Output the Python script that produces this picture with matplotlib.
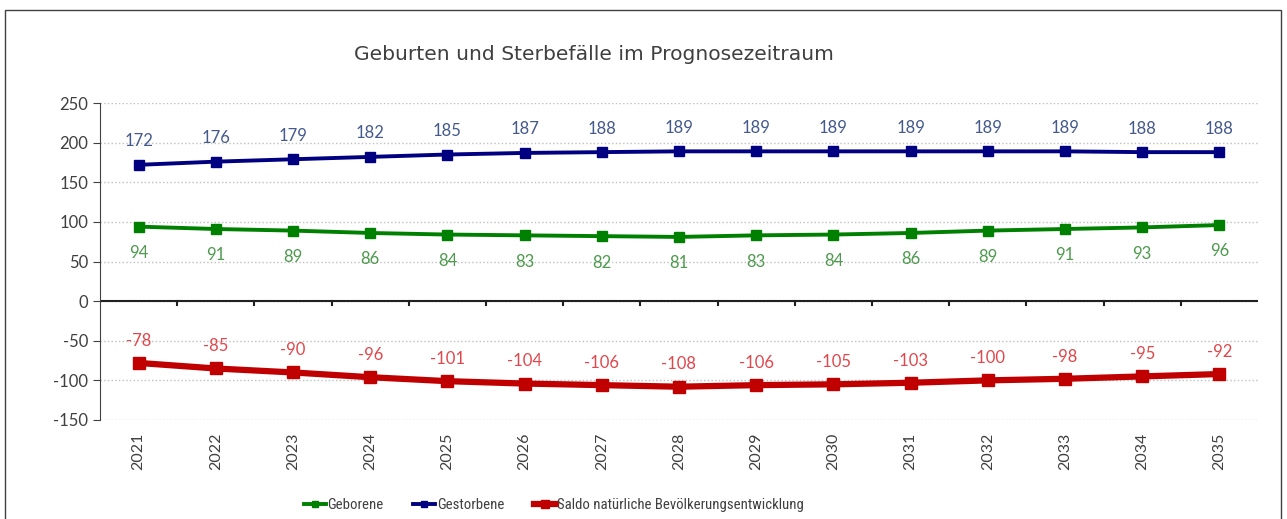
import matplotlib
matplotlib.use("Agg")
import matplotlib.pyplot as plt
from matplotlib.patches import Rectangle
from matplotlib import font_manager

plt.rcParams['font.family'] = ['Lato', 'DejaVu Sans']
plt.rcParams['axes.unicode_minus'] = False

years = ["2021", "2022", "2023", "2024", "2025", "2026", "2027", "2028",
         "2029", "2030", "2031", "2032", "2033", "2034", "2035"]
geborene = [94, 91, 89, 86, 84, 83, 82, 81, 83, 84, 86, 89, 91, 93, 96]
gestorbene = [172, 176, 179, 182, 185, 187, 188, 189, 189, 189, 189, 189, 189, 188, 188]
saldo = [-78, -85, -90, -96, -101, -104, -106, -108, -106, -105, -103, -100, -98, -95, -92]

title = "Geburten und Sterbefälle im Prognosezeitraum"
labels = ["Geborene", "Gestorbene", "Saldo natürliche Bevölkerungsentwicklung"]

c_green = "#008000"
c_blue = "#000080"
c_red = "#C00000"
t_green = "#4E9A4E"
t_blue = "#44598C"
t_red = "#E0474C"
txt = "#404040"

# pick a narrow font for the legend if one is installed
names = {f.name for f in font_manager.fontManager.ttflist}
narrow = [n for n in ["Liberation Sans Narrow", "Roboto Condensed", "Open Sans Condensed",
                      "DejaVu Sans Condensed"] if n in names]
leg_family = narrow[:1] + ['Lato', 'DejaVu Sans']
leg_size = 10.6 if narrow else 9.5

fig = plt.figure(figsize=(12.87, 5.19), dpi=100)
fig.patches.append(Rectangle((5/1287, -0.01), (1281-5)/1287, 1 - 10/519 + 0.01,
                             transform=fig.transFigure, fill=False,
                             edgecolor="#404040", linewidth=1.0))
ax = fig.add_axes([100/1287, 1 - 420/519, 1158/1287, 317/519])

x = list(range(len(years)))
l1, = ax.plot(x, geborene, color=c_green, lw=2.8, marker='s', ms=7, label=labels[0], zorder=3)
l2, = ax.plot(x, gestorbene, color=c_blue, lw=2.8, marker='s', ms=7, label=labels[1], zorder=3)
l3, = ax.plot(x, saldo, color=c_red, lw=4.5, marker='s', ms=8, label=labels[2], zorder=3)

for xi, v in zip(x, gestorbene):
    ax.annotate(str(v), (xi, v), xytext=(0, 17), textcoords='offset points',
                ha='center', va='center', color=t_blue, fontsize=12)
for xi, v in zip(x, geborene):
    ax.annotate(str(v), (xi, v), xytext=(0, -19), textcoords='offset points',
                ha='center', va='center', color=t_green, fontsize=12)
for xi, v in zip(x, saldo):
    ax.annotate(str(v), (xi, v), xytext=(0, 16), textcoords='offset points',
                ha='center', va='center', color=t_red, fontsize=12)

ax.set_xlim(-0.5, len(years) - 0.5)
ax.set_ylim(-150, 250)
ax.grid(axis='y', color='#BFBFBF', linestyle=':', linewidth=1.0)
ax.set_axisbelow(True)

for s in ['top', 'right', 'bottom']:
    ax.spines[s].set_visible(False)
ax.spines['left'].set_color('#404040')
ax.axhline(0, color='#202020', lw=1.5, zorder=2)

ax.set_yticks(range(-150, 251, 50))
ax.tick_params(axis='y', colors=txt, labelsize=12, length=5, color='#404040', direction='out')

ax.set_xticks(x)
ax.set_xticklabels([])
ax.tick_params(axis='x', length=0)
for xi, yr in zip(x, years):
    ax.text(xi, -166, yr, rotation=90, ha='center', va='top', color=txt, fontsize=11.5)
for b in range(1, len(years)):
    ax.plot([b - 0.5, b - 0.5], [0, -5], color='#202020', lw=1.5, clip_on=False, zorder=2)

fig.text(594/1287, 1 - 55/519, title, ha='center', va='center', color=txt,
         fontsize=14.6, family=['DejaVu Sans'])

leg = fig.legend(handles=[l1, l2, l3], loc='center', bbox_to_anchor=(554/1287, 1 - 505/519),
                 ncol=3, frameon=False, handlelength=1.5, handletextpad=0.1,
                 columnspacing=2.0, labelcolor=txt, markerscale=0.7,
                 prop={'family': leg_family, 'size': leg_size})

fig.savefig("out.png", dpi=100)
